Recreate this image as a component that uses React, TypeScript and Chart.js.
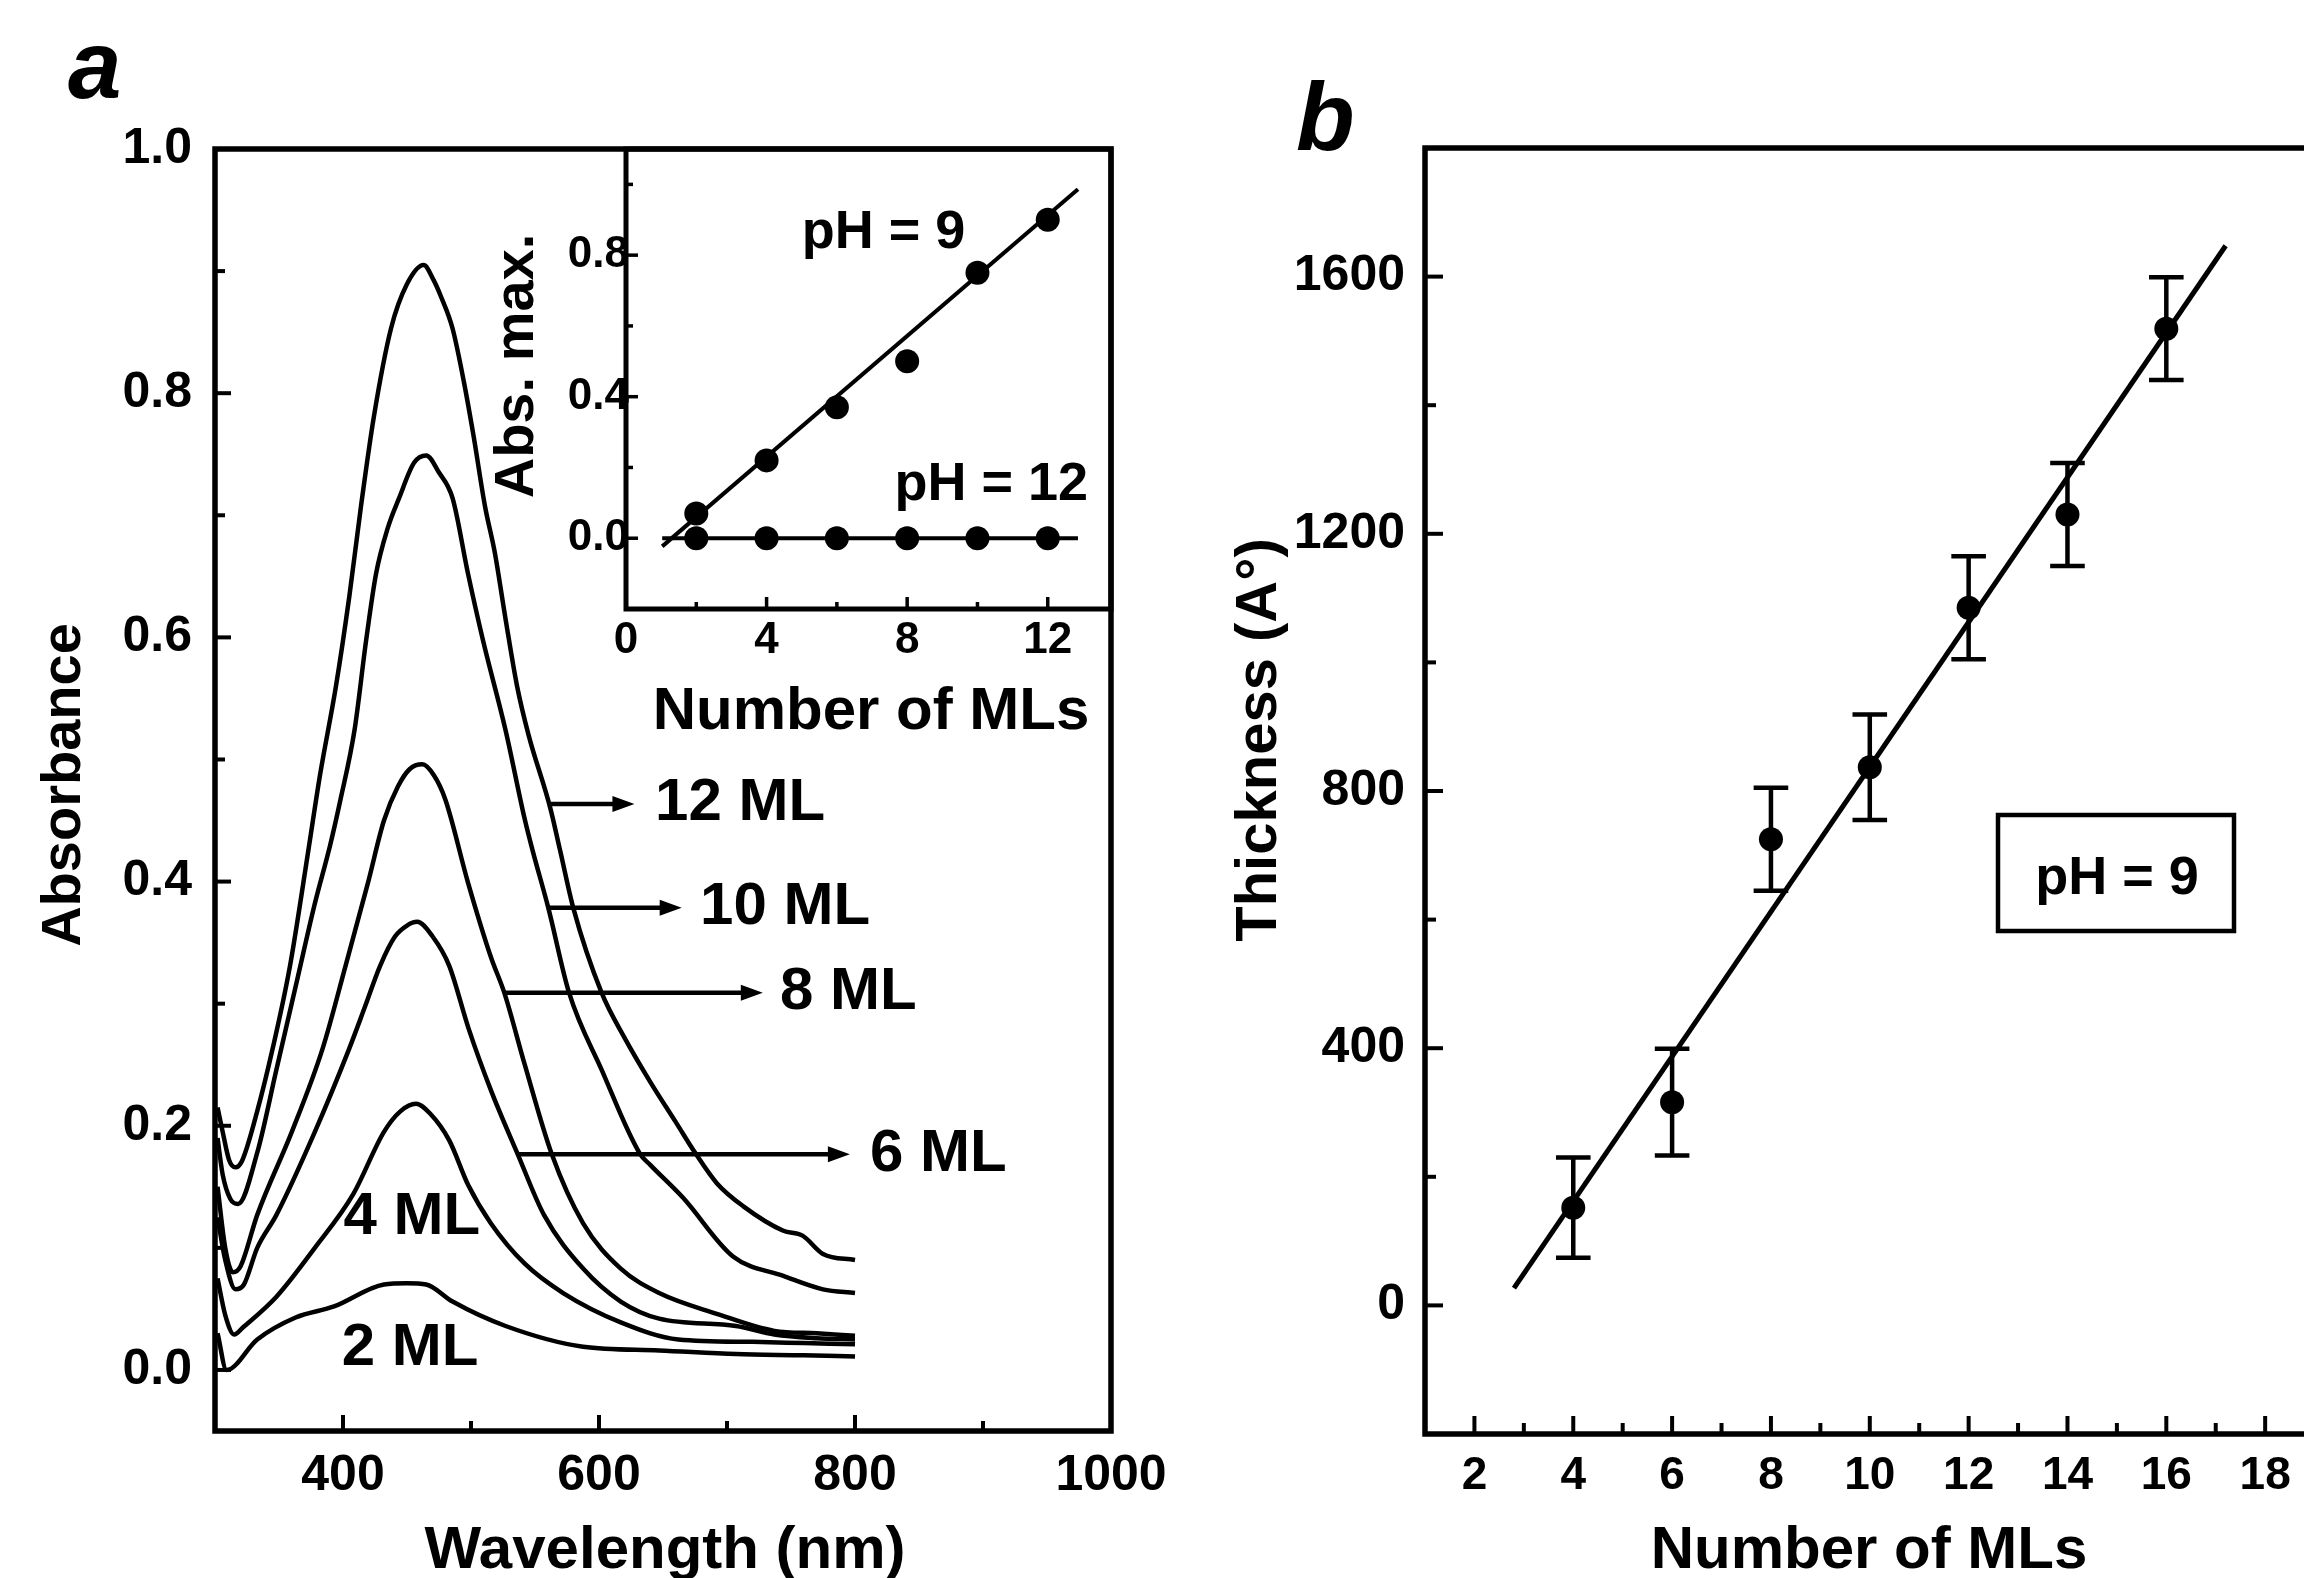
import React, { useEffect, useRef } from 'react';
import { Chart, registerables } from 'chart.js';

Chart.register(...registerables);

// ---------------- Panel a : absorbance spectra ----------------
const ml12Wl = [302, 306, 311, 316, 321, 333, 345, 358.6, 373, 382, 394.5, 405, 414, 424, 437.5, 449.8, 463, 470.6, 476.6, 485.6, 494.5, 502, 511, 518.5, 527, 536, 545, 562, 569.5, 580, 602, 620, 640, 660, 675, 692, 712.8, 744, 759, 775, 800];
const ml12Abs = [0.215, 0.195, 0.172, 0.166, 0.171, 0.212, 0.263, 0.331, 0.426, 0.487, 0.56, 0.634, 0.707, 0.78, 0.853, 0.889, 0.905, 0.893, 0.879, 0.853, 0.809, 0.765, 0.707, 0.67, 0.615, 0.56, 0.52, 0.46, 0.426, 0.378, 0.309, 0.272, 0.236, 0.203, 0.178, 0.153, 0.134, 0.114, 0.11, 0.095, 0.09];

const ml10Wl = [302, 306, 312, 318, 333, 348, 363, 378, 390, 398, 409, 418, 425.8, 434.8, 443.8, 455.5, 465, 475, 485.6, 497.7, 509.5, 527, 542, 548, 560.4, 576.6, 602, 632, 640, 665.7, 704.7, 744, 775, 800];
const ml10Abs = [0.19, 0.16, 0.14, 0.136, 0.178, 0.246, 0.314, 0.382, 0.43, 0.467, 0.524, 0.597, 0.652, 0.689, 0.714, 0.743, 0.749, 0.735, 0.714, 0.652, 0.597, 0.524, 0.451, 0.426, 0.3785, 0.309, 0.246, 0.177, 0.168, 0.141, 0.093, 0.077, 0.066, 0.063];

const ml8Wl = [302, 308, 314, 320, 333, 360, 384, 402, 419.5, 432, 443, 452, 462, 471, 480, 497.7, 515.6, 526, 542, 563, 587.6, 617, 647, 692, 737, 770, 800];
const ml8Abs = [0.15, 0.1, 0.08, 0.085, 0.127, 0.195, 0.263, 0.331, 0.399, 0.45, 0.478, 0.492, 0.496, 0.487, 0.467, 0.399, 0.338, 0.309, 0.25, 0.177, 0.12, 0.083, 0.063, 0.046, 0.032, 0.03, 0.028];

const ml6Wl = [302, 308, 316, 322.6, 333, 348, 378, 404.8, 417, 429, 440.6, 450, 458, 470, 483, 498, 515.6, 536.4, 557, 587.6, 617, 647, 707, 737, 770, 800];
const ml6Abs = [0.125, 0.09, 0.066, 0.07, 0.1, 0.127, 0.195, 0.263, 0.297, 0.331, 0.355, 0.364, 0.367, 0.355, 0.331, 0.28, 0.229, 0.177, 0.127, 0.083, 0.056, 0.042, 0.036, 0.029, 0.026, 0.025];

const ml4Wl = [302, 308, 315, 322, 348, 378, 408, 432, 445, 457, 468, 483, 498, 515.6, 542, 572, 617, 662, 720, 760, 800];
const ml4Abs = [0.075, 0.045, 0.029, 0.035, 0.06, 0.1, 0.144, 0.195, 0.212, 0.218, 0.21, 0.188, 0.151, 0.12, 0.087, 0.063, 0.039, 0.025, 0.023, 0.022, 0.021];

const ml2Wl = [302, 309, 333, 363, 393, 432, 450, 465, 485.6, 527, 587.6, 647, 707, 760, 800];
const ml2Abs = [0.03, 0.0, 0.025, 0.043, 0.052, 0.07, 0.071, 0.07, 0.056, 0.036, 0.019, 0.016, 0.013, 0.012, 0.011];

const spectraLabels = ['12 ML', '10 ML', '8 ML', '6 ML', '4 ML', '2 ML'];

// labels with arrows (data coordinates)
const arrowLabels = ['12 ML', '10 ML', '8 ML', '6 ML'];
const arrowFromWl = [561.7, 560.4, 526, 536.4];
const arrowToWl = [627.7, 664.6, 728, 796];
const arrowAbs = [0.4636, 0.3785, 0.309, 0.1766];
const arrowTextWl = [643.8, 679, 741.4, 811.7];
const plainLabels = ['4 ML', '2 ML'];
const plainLabelWl = [400.4, 399];
const plainLabelAbs = [0.125, 0.018];

const aXTicks = [400, 600, 800, 1000];
const aXMinor = [300, 500, 700, 900];
const aYTicks = [0, 0.2, 0.4, 0.6, 0.8, 1.0];
const aYMinor = [0.1, 0.3, 0.5, 0.7, 0.9];

// ---------------- Inset : Abs. max. vs number of MLs ----------------
const insetMl = [2, 4, 6, 8, 10, 12];
const insetPh9 = [0.07, 0.22, 0.37, 0.5, 0.75, 0.9];
const insetPh12 = [0, 0, 0, 0, 0, 0];
const insetFit9X = [1.03, 12.86];
const insetFit9Y = [-0.023, 0.986];
const insetFit12X = [1.03, 12.86];
const insetFit12Y = [0, 0];
const insetXTicks = [0, 4, 8, 12];
const insetXMinor = [2, 6, 10];
const insetYTicks = [0.0, 0.4, 0.8];
const insetYMinor = [0.2, 0.6, 1.0];
const insetTexts = ['pH = 9', 'pH = 12'];
const insetTextX = [5.0, 7.64];
const insetTextY = [0.82, 0.108];

// ---------------- Panel b : thickness vs number of MLs ----------------
const bMl = [4, 6, 8, 10, 12, 14, 16];
const bThick = [152, 316, 725, 837, 1085, 1230, 1519];
const bErr = [78, 83, 80, 82, 80, 80, 80];
const bFitX = [2.8, 17.2];
const bFitY = [27, 1648];
const bXTicks = [2, 4, 6, 8, 10, 12, 14, 16, 18];
const bXMinor = [1, 3, 5, 7, 9, 11, 13, 15, 17, 19];
const bYTicks = [0, 400, 800, 1200, 1600];
const bYMinor = [-200, 200, 600, 1000, 1400, 1800];

// ---------------- drawing helpers ----------------
const INK = '#000';
const FAMILY = '"Liberation Sans", Arial, Helvetica, sans-serif';
const font = (size: number, weight = 'bold', style = 'normal') => `${style} ${weight} ${size}px ${FAMILY}`;

function seg(ctx: CanvasRenderingContext2D, x1: number, y1: number, x2: number, y2: number) {
  ctx.beginPath();
  ctx.moveTo(x1, y1);
  ctx.lineTo(x2, y2);
  ctx.stroke();
}

function frame(chart: any, ctx: CanvasRenderingContext2D, lw: number) {
  const { left, right, top, bottom } = chart.chartArea;
  ctx.lineWidth = lw;
  ctx.strokeStyle = INK;
  ctx.strokeRect(left, top, right - left, bottom - top);
}

function xTicks(chart: any, ctx: CanvasRenderingContext2D, values: number[], len: number, lw: number) {
  const s = chart.scales.x;
  const b = chart.chartArea.bottom;
  ctx.lineWidth = lw;
  ctx.strokeStyle = INK;
  values.forEach((v) => {
    const p = s.getPixelForValue(v);
    seg(ctx, p, b, p, b - len);
  });
}

function yTicks(chart: any, ctx: CanvasRenderingContext2D, values: number[], len: number, lw: number) {
  const s = chart.scales.y;
  const l = chart.chartArea.left;
  ctx.lineWidth = lw;
  ctx.strokeStyle = INK;
  values.forEach((v) => {
    const p = s.getPixelForValue(v);
    seg(ctx, l, p, l + len, p);
  });
}

function xLabels(chart: any, ctx: CanvasRenderingContext2D, values: number[], fmt: (v: number) => string, f: string, cy: number) {
  const s = chart.scales.x;
  ctx.font = f;
  ctx.fillStyle = INK;
  ctx.textAlign = 'center';
  ctx.textBaseline = 'middle';
  values.forEach((v) => ctx.fillText(fmt(v), s.getPixelForValue(v), cy));
}

function yLabels(chart: any, ctx: CanvasRenderingContext2D, values: number[], fmt: (v: number) => string, f: string, rx: number) {
  const s = chart.scales.y;
  ctx.font = f;
  ctx.fillStyle = INK;
  ctx.textAlign = 'right';
  ctx.textBaseline = 'middle';
  values.forEach((v) => ctx.fillText(fmt(v), rx, s.getPixelForValue(v)));
}

function text(ctx: CanvasRenderingContext2D, s: string, x: number, y: number, f: string, align: CanvasTextAlign = 'left', baseline: CanvasTextBaseline = 'alphabetic', rot = 0) {
  ctx.save();
  ctx.translate(x, y);
  if (rot) ctx.rotate(rot);
  ctx.font = f;
  ctx.fillStyle = INK;
  ctx.textAlign = align;
  ctx.textBaseline = baseline;
  ctx.fillText(s, 0, 0);
  ctx.restore();
}

function decor(id: string, draw: (chart: any, ctx: CanvasRenderingContext2D) => void) {
  return {
    id,
    afterDraw(chart: any) {
      const ctx = chart.ctx as CanvasRenderingContext2D;
      ctx.save();
      draw(chart, ctx);
      ctx.restore();
    },
  };
}

const fmt1 = (v: number) => v.toFixed(1);
const fmt0 = (v: number) => String(v);
const pts = (xs: number[], ys: number[]) => xs.map((x, i) => ({ x, y: ys[i] }));

const baseOptions = (padding: any, xmin: number, xmax: number, ymin: number, ymax: number) => ({
  responsive: false,
  animation: false,
  devicePixelRatio: 1,
  events: [],
  layout: { padding },
  plugins: { legend: { display: false }, tooltip: { enabled: false }, title: { display: false } },
  scales: {
    x: { type: 'linear', display: false, min: xmin, max: xmax },
    y: { type: 'linear', display: false, min: ymin, max: ymax },
  },
});

// ---------------- configs ----------------
function spectraConfig(): any {
  const series = [
    [ml12Wl, ml12Abs],
    [ml10Wl, ml10Abs],
    [ml8Wl, ml8Abs],
    [ml6Wl, ml6Abs],
    [ml4Wl, ml4Abs],
    [ml2Wl, ml2Abs],
  ];
  return {
    type: 'scatter',
    data: {
      datasets: series.map(([wl, ab], i) => ({
        label: spectraLabels[i],
        data: pts(wl, ab),
        showLine: true,
        borderColor: INK,
        borderWidth: 4.5,
        pointRadius: 0,
        cubicInterpolationMode: 'monotone',
        fill: false,
      })),
    },
    options: baseOptions({ left: 215, top: 149, right: 2304 - 1111, bottom: 1578 - 1431 }, 300, 1000, -0.05, 1.0),
    plugins: [
      decor('decorA', (chart, ctx) => {
        const xs = chart.scales.x;
        const ys = chart.scales.y;
        yLabels(chart, ctx, aYTicks, fmt1, font(50), 192);
        xLabels(chart, ctx, aXTicks, fmt0, font(50), 1476);
        xTicks(chart, ctx, aXTicks, 16, 4);
        xTicks(chart, ctx, aXMinor, 10, 4);
        yTicks(chart, ctx, aYTicks, 16, 4);
        yTicks(chart, ctx, aYMinor, 10, 4);
        frame(chart, ctx, 5.5);
        text(ctx, 'Wavelength (nm)', 665, 1568, font(60), 'center');
        text(ctx, 'Absorbance', 80, 785, font(56), 'center', 'alphabetic', -Math.PI / 2);
        text(ctx, 'a', 68, 98, font(96, 'bold', 'italic'));
        // arrows with labels
        ctx.strokeStyle = INK;
        ctx.fillStyle = INK;
        arrowLabels.forEach((lab, i) => {
          const y = ys.getPixelForValue(arrowAbs[i]);
          const x1 = xs.getPixelForValue(arrowFromWl[i]);
          const x2 = xs.getPixelForValue(arrowToWl[i]);
          ctx.lineWidth = 4.5;
          seg(ctx, x1, y, x2 - 16, y);
          ctx.beginPath();
          ctx.moveTo(x2, y);
          ctx.lineTo(x2 - 22, y - 8);
          ctx.lineTo(x2 - 22, y + 8);
          ctx.closePath();
          ctx.fill();
          text(ctx, lab, xs.getPixelForValue(arrowTextWl[i]), y, font(60), 'left', 'middle');
        });
        plainLabels.forEach((lab, i) => {
          text(ctx, lab, xs.getPixelForValue(plainLabelWl[i]), ys.getPixelForValue(plainLabelAbs[i]), font(60), 'left', 'middle');
        });
      }),
    ],
  };
}

function insetConfig(): any {
  return {
    type: 'scatter',
    data: {
      datasets: [
        { label: 'fit pH 9', data: pts(insetFit9X, insetFit9Y), showLine: true, borderColor: INK, borderWidth: 4, pointRadius: 0 },
        { label: 'fit pH 12', data: pts(insetFit12X, insetFit12Y), showLine: true, borderColor: INK, borderWidth: 4, pointRadius: 0 },
        { label: 'pH = 9', data: pts(insetMl, insetPh9), showLine: false, pointRadius: 12, backgroundColor: INK, borderWidth: 0 },
        { label: 'pH = 12', data: pts(insetMl, insetPh12), showLine: false, pointRadius: 12, backgroundColor: INK, borderWidth: 0 },
      ],
    },
    options: baseOptions({ left: 626, top: 149, right: 2304 - 1111, bottom: 1578 - 609 }, 0, 13.8, -0.2, 1.1),
    plugins: [
      decor('decorInset', (chart, ctx) => {
        const xs = chart.scales.x;
        const ys = chart.scales.y;
        yLabels(chart, ctx, insetYTicks, fmt1, font(44), 629);
        xLabels(chart, ctx, insetXTicks, fmt0, font(44), 641);
        xTicks(chart, ctx, insetXTicks, 12, 3.5);
        xTicks(chart, ctx, insetXMinor, 7, 3.5);
        yTicks(chart, ctx, insetYTicks, 12, 3.5);
        yTicks(chart, ctx, insetYMinor, 7, 3.5);
        frame(chart, ctx, 5);
        text(ctx, 'Number of MLs', 871, 729, font(60), 'center');
        text(ctx, 'Abs. max.', 533, 366, font(56), 'center', 'alphabetic', -Math.PI / 2);
        insetTexts.forEach((t, i) => {
          text(ctx, t, xs.getPixelForValue(insetTextX[i]), ys.getPixelForValue(insetTextY[i]), font(54));
        });
      }),
    ],
  };
}

function thicknessConfig(): any {
  const cap = 0.35;
  const errData: any[] = [];
  bMl.forEach((x, i) => {
    const lo = bThick[i] - bErr[i];
    const hi = bThick[i] + bErr[i];
    errData.push({ x, y: lo }, { x, y: hi }, { x, y: null });
    errData.push({ x: x - cap, y: lo }, { x: x + cap, y: lo }, { x, y: null });
    errData.push({ x: x - cap, y: hi }, { x: x + cap, y: hi }, { x, y: null });
  });
  return {
    type: 'scatter',
    data: {
      datasets: [
        { label: 'fit', data: pts(bFitX, bFitY), showLine: true, borderColor: INK, borderWidth: 5, pointRadius: 0 },
        { label: 'error', data: errData, showLine: true, spanGaps: false, borderColor: INK, borderWidth: 4.5, pointRadius: 0 },
        { label: 'Thickness', data: pts(bMl, bThick), showLine: false, pointRadius: 12, backgroundColor: INK, borderWidth: 0 },
      ],
    },
    options: baseOptions({ left: 1425, top: 148, right: 2450 - 2364, bottom: 1578 - 1434 }, 1, 20, -200, 1800),
    plugins: [
      decor('decorB', (chart, ctx) => {
        yLabels(chart, ctx, bYTicks, fmt0, font(50), 1405);
        xLabels(chart, ctx, bXTicks, fmt0, font(46), 1476);
        xTicks(chart, ctx, bXTicks, 18, 4);
        xTicks(chart, ctx, bXMinor, 11, 4);
        yTicks(chart, ctx, bYTicks, 18, 4);
        yTicks(chart, ctx, bYMinor, 11, 4);
        frame(chart, ctx, 5.5);
        text(ctx, 'Number of MLs', 1869, 1568, font(60), 'center');
        text(ctx, 'Thickness (A°)', 1276, 740, font(58), 'center', 'alphabetic', -Math.PI / 2);
        text(ctx, 'b', 1296, 150, font(96, 'bold', 'italic'));
        // legend box
        ctx.lineWidth = 4.5;
        ctx.strokeStyle = INK;
        ctx.strokeRect(1998, 815, 236, 116);
        text(ctx, 'pH = 9', 2117, 894, font(54), 'center', 'alphabetic');
      }),
    ],
  };
}

export default function App() {
  const aRef = useRef<HTMLCanvasElement>(null);
  const bRef = useRef<HTMLCanvasElement>(null);
  const iRef = useRef<HTMLCanvasElement>(null);

  useEffect(() => {
    const charts = [
      new Chart(aRef.current as HTMLCanvasElement, spectraConfig()),
      new Chart(bRef.current as HTMLCanvasElement, thicknessConfig()),
      new Chart(iRef.current as HTMLCanvasElement, insetConfig()),
    ];
    return () => charts.forEach((c) => c.destroy());
  }, []);

  const abs: React.CSSProperties = { position: 'absolute', left: 0, top: 0 };
  return (
    <div style={{ position: 'fixed', left: 0, top: 0, width: 2304, height: 1578, overflow: 'hidden', background: '#fff' }}>
      <canvas ref={aRef} width={2304} height={1578} style={{ ...abs, width: 2304, height: 1578 }} />
      <canvas ref={bRef} width={2450} height={1578} style={{ ...abs, width: 2450, height: 1578 }} />
      <canvas ref={iRef} width={2304} height={1578} style={{ ...abs, width: 2304, height: 1578 }} />
    </div>
  );
}
